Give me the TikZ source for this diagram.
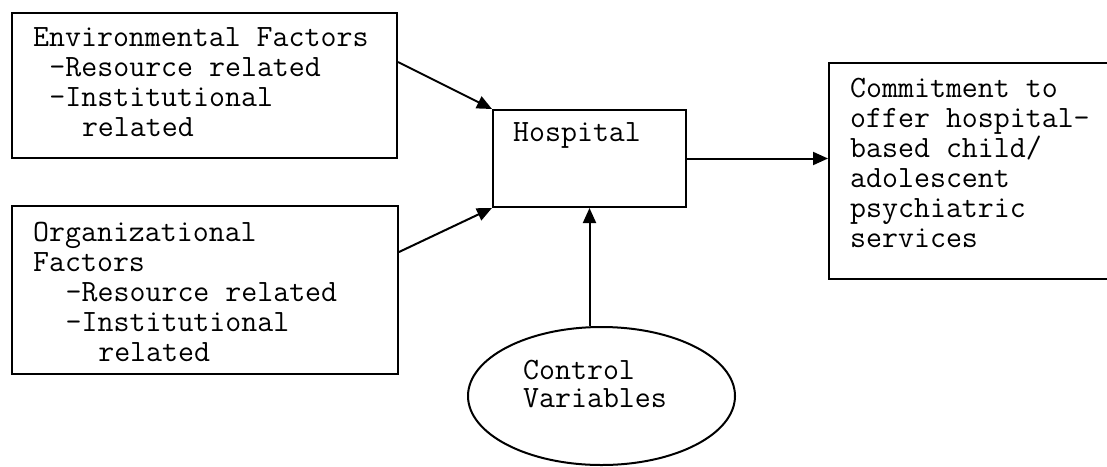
\documentclass[tikz,border=0pt]{standalone}
\usetikzlibrary{arrows.meta,shapes.geometric}
% indent by a number of monospaced character widths
\newcommand\ind[1]{\hspace*{#1\dimexpr 0.525em\relax}}
\tikzset{
  frame/.style={draw, line width=2pt, inner sep=0pt},
  txt/.style={anchor=base west, inner sep=0pt, align=left,
    font=\ttfamily\fontsize{31}{30}\selectfont},
  link/.style={line width=2pt, -{Triangle[length=15pt,width=13pt]}}
}
\begin{document}
\begin{tikzpicture}[x=1pt,y=-1pt]
\useasboundingbox (0,0) rectangle (1107,466);
% boxes
\node[frame, minimum width=385pt, minimum height=145pt] (env) at (204.5,85.5) {};
\node[frame, minimum width=386pt, minimum height=168pt] (org) at (205,290) {};
\node[frame, minimum width=193pt, minimum height=97pt] (hosp) at (589.5,158.5) {};
\node[frame, minimum width=290pt, minimum height=216pt] (commit) at (974,171) {};
\node[frame, ellipse, minimum width=267pt, minimum height=138pt] (ctrl) at (601.5,396) {};
% labels (anchored at the baseline of their last line)
\node[txt] (envtxt) at (33,136) {Environmental Factors\\\ind{1}-Resource related\\\ind{1}-Institutional\\\ind{3}related};
\node[txt] (orgtxt) at (33,361) {Organizational\\Factors\\\ind{2}-Resource related\\\ind{2}-Institutional\\\ind{4}related};
\node[txt] (hosptxt) at (513,141) {Hospital};
\node[txt] (committxt) at (850,247) {Commitment to\\offer hospital-\\based child/\\adolescent\\psychiatric\\services};
\node[txt, font=\ttfamily\fontsize{31}{28}\selectfont] (ctrltxt) at (523,407) {Control\\Variables};
% connectors
\draw[link] ([yshift=-50pt]env.north east) -- (hosp.north west);
\draw[link] ([yshift=-47pt]org.north east) -- (hosp.south west);
\draw[link] (hosp.south |- ctrl.north) -- (hosp.south);
\draw[link] (hosp.east) -- (hosp.east -| commit.west);
\end{tikzpicture}
\end{document}
